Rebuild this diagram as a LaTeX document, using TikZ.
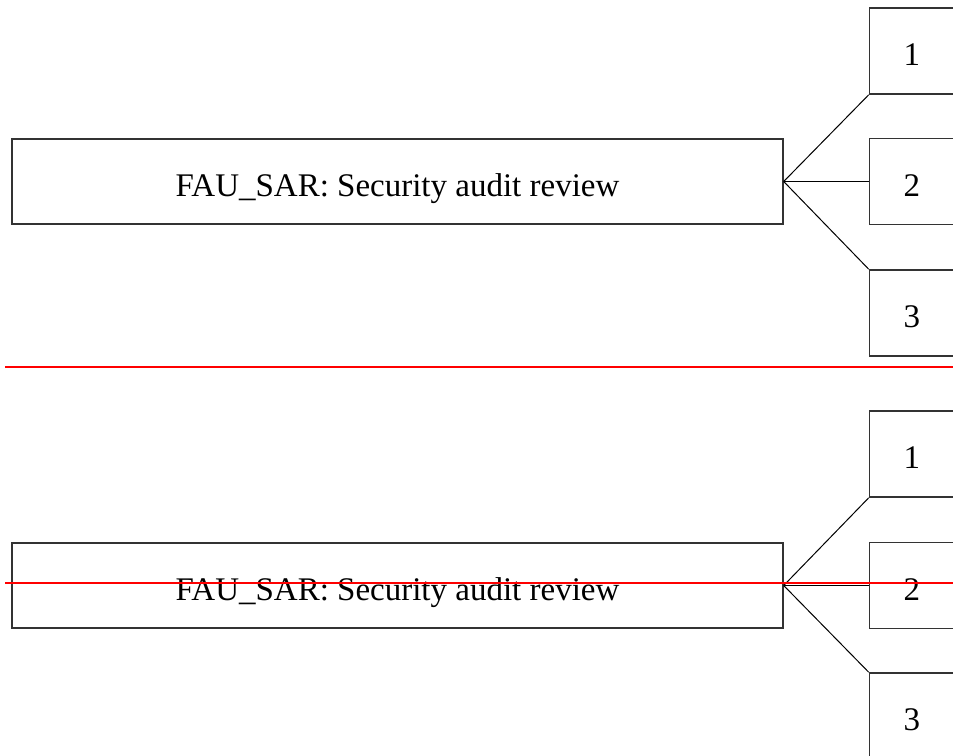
\documentclass[tikz,border=0pt]{standalone}
\usepackage{fontspec}
\setmainfont{Liberation Serif}
\usetikzlibrary{positioning}

\begin{document}
\begin{tikzpicture}[x=1pt,y=-1pt,line width=1pt,node distance=43pt and 85pt,
    family node/.style={draw=black!80,line width=1.4pt,inner sep=0pt,minimum width=771pt,minimum height=85pt,text height=29pt,text depth=0pt,font=\fontsize{33}{39}\selectfont},
    comp node/.style={draw=black!80,line width=1.4pt,inner sep=0pt,minimum width=85pt,minimum height=86pt,text height=29pt,text depth=0pt,font=\fontsize{33}{39}\selectfont},
    cut line/.style={draw=red,line width=2.4pt}]

  \useasboundingbox (0,0) rectangle (953,755);

  % upper copy
  \node[family node]            (sar)  at (397.5,181.5) {FAU\_SAR: Security audit review};
  \node[comp node]              (c2)   [right=of sar] {2};
  \node[comp node]              (c1)   [above=of c2]  {1};
  \node[comp node]              (c3)   [below=44pt of c2]  {3};
  \path (sar.east) edge (c1.south west)
        (sar.east) edge (c2.west)
        (sar.east) edge (c3.north west);

  % lower copy
  \node[family node]            (sarb) at (397.5,585.5) {FAU\_SAR: Security audit review};
  \node[comp node]              (d2)   [right=of sarb] {2};
  \node[comp node]              (d1)   [above=44pt of d2]  {1};
  \node[comp node]              (d3)   [below=of d2]  {3};
  \path (sarb.east) edge (d1.south west)
        (sarb.east) edge (d2.west)
        (sarb.east) edge (d3.north west);

  % red guide lines
  \coordinate (cut a) at (5,367);
  \coordinate (cut b) at (953,367);
  \coordinate (cut c) at (5,583);
  \coordinate (cut d) at (953,583);
  \draw[cut line] (cut a) -- (cut b);
  \draw[cut line] (cut c) -- (cut d);

\end{tikzpicture}
\end{document}
